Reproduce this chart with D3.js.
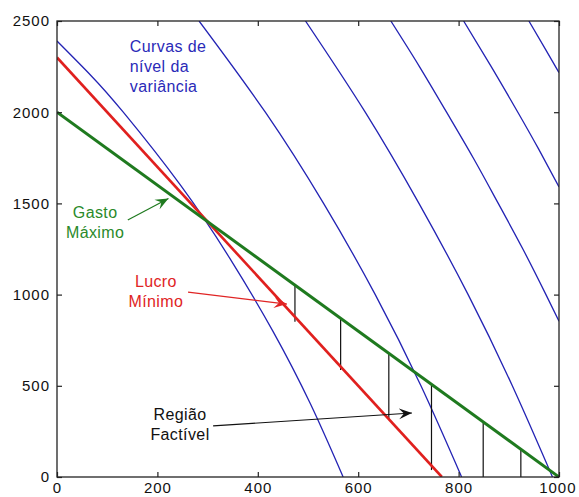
<!DOCTYPE html>
<html>
<head>
<meta charset="utf-8">
<script src="https://cdn.jsdelivr.net/npm/d3@7"></script>
<style>
  html, body { margin: 0; padding: 0; background: #fff; }
  svg { display: block; }
  text { font-family: "Liberation Sans", Arial, Helvetica, sans-serif; }
</style>
</head>
<body>
<script>
// ---------- data ----------
const xTicks = [0, 200, 400, 600, 800, 1000];
const yTicks = [0, 500, 1000, 1500, 2000, 2500];

// restrictions
const gastoMaximo = [[0, 2000], [1000, 0]];
const lucroMinimo = [[0, 2300], [766.7, 0]];

// level curves of the variance
const variancia1 = [[570, 0], [505, 400], [430, 800], [344, 1200], [246, 1600], [132, 2000], [68, 2200], [0, 2390]];
const variancia2 = [[806, 0], [725, 500], [634, 1000], [531, 1500], [415, 2000], [283, 2500]];
const variancia3 = [[987, 0], [907, 500], [819, 1000], [721, 1500], [614, 2000], [495, 2500]];
const variancia4 = [[1000, 854], [974, 1000], [928, 1250], [879, 1500], [829, 1750], [776, 2000], [722, 2250], [665, 2500]];
const variancia5 = [[1000, 1590], [959, 1800], [918, 2000], [865, 2250], [810, 2500]];
const variancia6 = [[1000, 2217], [972, 2350], [940, 2500]];

// feasible-region hatch lines
const regiaoX      = [474, 565, 661, 746, 849, 924];
const regiaoTopo   = [1052, 870, 678, 508, 302, 152];
const regiaoBase   = [851, 587, 312, 38, 0, 0];

// annotations (data coordinates)
const rotulos = [
  { linhas: ["Curvas de", "nível da", "variância"], x: 145, y: 2328, anchor: "start", cor: "#2a2ab8" },
  { linhas: ["Gasto", "Máximo"], x: 76, y: 1420, anchor: "middle", cor: "#2a8a2a" },
  { linhas: ["Lucro", "Mínimo"], x: 197, y: 1042, anchor: "middle", cor: "#e02424" },
  { linhas: ["Região", "Factível"], x: 245, y: 312, anchor: "middle", cor: "#111111" }
];
const setas = [
  { de: [141, 1409], para: [222, 1527], cor: "#1f7a1f" },
  { de: [261, 1014], para: [458, 948], cor: "#e02424" },
  { de: [311, 280], para: [707, 351], cor: "#111111" }
];

// ---------- drawing ----------
const W = 579, H = 497;
const mLeft = 57, mRight = 559, mTop = 21, mBottom = 477;

const x = d3.scaleLinear().domain([0, 1000]).range([mLeft, mRight]);
const y = d3.scaleLinear().domain([0, 2500]).range([mBottom, mTop]);

const svg = d3.select("body").append("svg").attr("width", W).attr("height", H);

const defs = svg.append("defs");
defs.append("clipPath").attr("id", "plot")
  .append("rect").attr("x", mLeft).attr("y", mTop).attr("width", mRight - mLeft).attr("height", mBottom - mTop);

const g = svg.append("g").attr("clip-path", "url(#plot)");

const line = d3.line().x(d => x(d[0])).y(d => y(d[1]));
const curve = d3.line().x(d => x(d[0])).y(d => y(d[1])).curve(d3.curveNatural);

// blue variance curves
[variancia1, variancia2, variancia3, variancia4, variancia5, variancia6].forEach(c => {
  g.append("path").attr("d", curve(c)).attr("fill", "none")
    .attr("stroke", "#2323b4").attr("stroke-width", 1.3);
});

// hatch lines
regiaoX.forEach((xv, i) => {
  g.append("line")
    .attr("x1", x(xv)).attr("x2", x(xv))
    .attr("y1", y(regiaoTopo[i])).attr("y2", y(regiaoBase[i]))
    .attr("stroke", "#111").attr("stroke-width", 1.2);
});

// red and green constraints
g.append("path").attr("d", line(lucroMinimo)).attr("fill", "none")
  .attr("stroke", "#e0201e").attr("stroke-width", 2.6);
g.append("path").attr("d", line(gastoMaximo)).attr("fill", "none")
  .attr("stroke", "#1f7a1f").attr("stroke-width", 3);

// axes (inward ticks, MATLAB style)
const fontSize = 15;
const fmt = d3.format("d");
const axB = svg.append("g").attr("transform", `translate(0,${mBottom})`)
  .call(d3.axisBottom(x).tickValues(xTicks).tickFormat(fmt).tickSizeInner(-5).tickSizeOuter(0).tickPadding(5));
const axL = svg.append("g").attr("transform", `translate(${mLeft},0)`)
  .call(d3.axisLeft(y).tickValues(yTicks).tickFormat(fmt).tickSizeInner(-5).tickSizeOuter(0).tickPadding(7));
const axT = svg.append("g").attr("transform", `translate(0,${mTop})`)
  .call(d3.axisTop(x).tickValues(xTicks).tickSizeInner(-5).tickSizeOuter(0).tickFormat(""));
const axR = svg.append("g").attr("transform", `translate(${mRight},0)`)
  .call(d3.axisRight(y).tickValues(yTicks).tickSizeInner(-5).tickSizeOuter(0).tickFormat(""));
[axB, axL, axT, axR].forEach(a => {
  a.select(".domain").remove();
  a.selectAll(".tick line").attr("stroke", "#222").attr("stroke-width", 1.2);
  a.selectAll(".tick text").attr("fill", "#111").attr("font-size", fontSize)
    .attr("font-family", '"Liberation Sans", Arial, sans-serif').attr("letter-spacing", "1px");
});
// keep the right-most x label inside the window
axB.selectAll(".tick text").filter(d => d === 1000).attr("text-anchor", "end").attr("dx", 17);

// frame
svg.append("rect").attr("x", mLeft).attr("y", mTop).attr("width", mRight - mLeft).attr("height", mBottom - mTop)
  .attr("fill", "none").attr("stroke", "#222").attr("stroke-width", 1.3);

// arrows
setas.forEach((s, i) => {
  defs.append("marker").attr("id", "seta" + i)
    .attr("viewBox", "-13 -6 14 12").attr("refX", 0).attr("refY", 0)
    .attr("markerWidth", 14).attr("markerHeight", 12).attr("markerUnits", "userSpaceOnUse")
    .attr("orient", "auto")
    .append("path").attr("d", "M0,0 L-13,-5.5 L-8,0 L-13,5.5 Z").attr("fill", s.cor);
  svg.append("line")
    .attr("x1", x(s.de[0])).attr("y1", y(s.de[1]))
    .attr("x2", x(s.para[0])).attr("y2", y(s.para[1]))
    .attr("stroke", s.cor).attr("stroke-width", 1.2)
    .attr("marker-end", `url(#seta${i})`);
});

// labels
rotulos.forEach(r => {
  const t = svg.append("text").attr("text-anchor", r.anchor).attr("fill", r.cor)
    .attr("font-size", 16).attr("letter-spacing", "0.4px");
  r.linhas.forEach((l, i) => {
    t.append("tspan").attr("x", x(r.x)).attr("y", y(r.y) + i * 20).text(l);
  });
});
</script>
</body>
</html>
